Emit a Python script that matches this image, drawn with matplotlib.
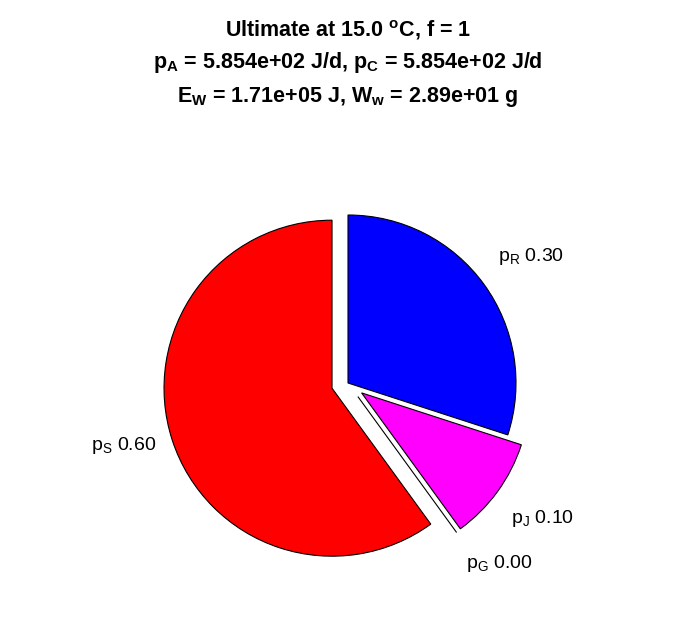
import matplotlib.pyplot as plt
import matplotlib.transforms as mtransforms
import numpy as np

plt.rcParams['font.family'] = ['Liberation Sans', 'DejaVu Sans']
plt.rcParams['mathtext.fontset'] = 'custom'
plt.rcParams['mathtext.rm'] = 'Liberation Sans'
plt.rcParams['mathtext.bf'] = 'Liberation Sans:bold'
plt.rcParams['mathtext.it'] = 'Liberation Sans:italic'

# data
names = ['R', 'J', 'G', 'S']
fractions = [0.30, 0.10, 0.00, 0.60]
explode_on = [0, 1, 1, 1]
colors = ['#0000ff', '#ff00ff', '#ffff00', '#ff0000']

title_lines = [
    r'Ultimate at 15.0 $^\mathbf{o}$C, f = 1',
    r'$\mathbf{p_A}$ = 5.854e+02 J/d, $\mathbf{p_C}$ = 5.854e+02 J/d',
    r'$\mathbf{E_W}$ = 1.71e+05 J, $\mathbf{W_w}$ = 2.89e+01 g',
]

labels = [r'$\mathrm{p_%s}$ %.2f' % (n, v) for n, v in zip(names, fractions)]

fig = plt.figure(figsize=(6.96, 6.18), dpi=100)
ax = fig.add_axes([0, 0, 1, 1])

wedges, texts = ax.pie(fractions, explode=[0.1 * e for e in explode_on],
                       colors=colors, labels=labels, startangle=90,
                       counterclock=False, labeldistance=1.1, normalize=False,
                       wedgeprops=dict(edgecolor='black', linewidth=0.8),
                       textprops=dict(fontsize=14))

# vertical alignment of labels depending on angle (MATLAB-like placement)
for w, t in zip(wedges, texts):
    ang = np.radians((w.theta1 + w.theta2) / 2)
    s = np.sin(ang)
    if s > 0.5:
        t.set_va('bottom')
        t.set_transform(mtransforms.offset_copy(ax.transData, fig=fig, y=5, units='points'))
    elif s < -0.5:
        t.set_va('top')
        t.set_transform(mtransforms.offset_copy(ax.transData, fig=fig, y=-5, units='points'))
    else:
        t.set_va('center')

# pie centre at (348, 383) px, radius 168 px
R = 168.0
ax.set_xlim(-348 / R, (696 - 348) / R)
ax.set_ylim(-(618 - 383) / R, 383 / R)
ax.set_aspect('auto')
ax.axis('off')

for line, yb in zip(title_lines, [37, 68, 102]):
    fig.text(0.5, 1 - yb / 618, line, ha='center', va='baseline',
             fontsize=15.5, fontweight='bold')

fig.savefig('out.png', dpi=100)
